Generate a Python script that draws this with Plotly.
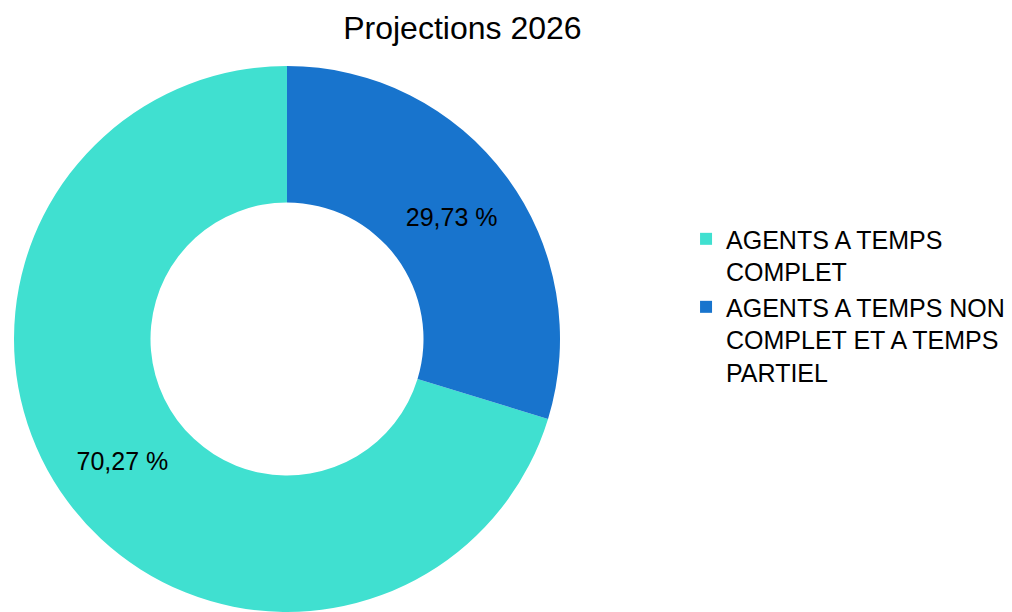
import plotly.graph_objects as go

labels = ["AGENTS A TEMPS<br>COMPLET", "AGENTS A TEMPS NON<br>COMPLET ET A TEMPS<br>PARTIEL"]
values = [70.27, 29.73]
texts = ["70,27 %", "29,73 %"]
colors = ["#40E0D0", "#1874CD"]

FONT = "Liberation Sans, Arial, sans-serif"

# first slice (turquoise) starts where the blue slice, drawn from 12 o'clock clockwise, ends
start_angle = values[1] / sum(values) * 360

fig = go.Figure(go.Pie(
    labels=labels,
    values=values,
    text=texts,
    textinfo="text",
    textposition="inside",
    insidetextorientation="horizontal",
    hole=0.5,
    sort=False,
    direction="clockwise",
    rotation=start_angle,
    marker=dict(colors=colors, line=dict(width=0)),
    textfont=dict(family=FONT, size=25, color="#000000"),
    domain=dict(x=[6/1012, 552/1012], y=[1 - 604/612, 1 - 58/612]),
))

fig.update_layout(
    width=1012, height=612,
    margin=dict(l=0, r=0, t=0, b=0),
    paper_bgcolor="white",
    title=dict(text="Projections 2026", x=0.449, xanchor="center", y=0.968, yanchor="middle",
               font=dict(family=FONT, size=32, color="#000000")),
    legend=dict(x=0.670, y=0.660, xanchor="left", yanchor="top", valign="top",
                font=dict(family=FONT, size=25, color="#000000"),
                itemwidth=30, tracegroupgap=0),
    showlegend=True,
)
fig.write_html("out.html")
